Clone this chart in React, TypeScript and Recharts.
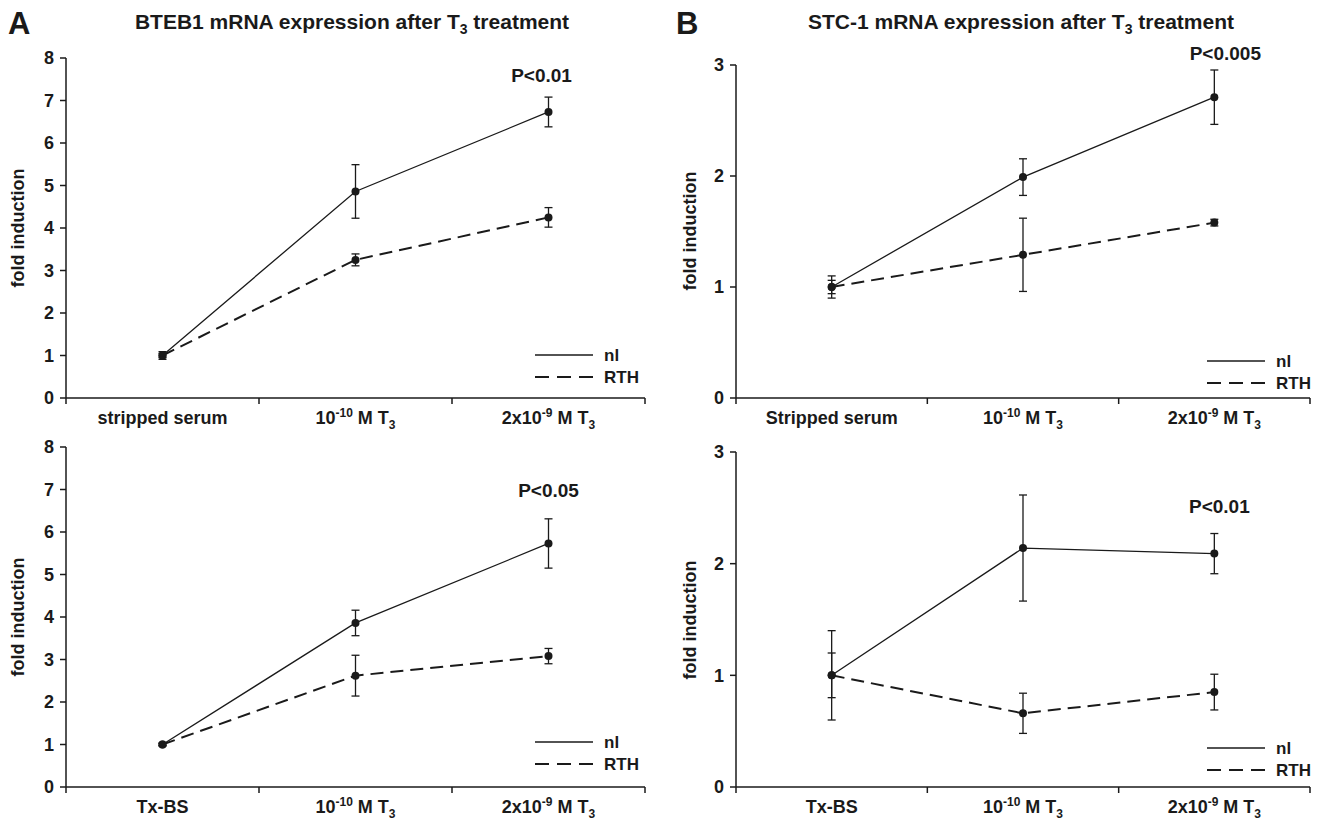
import React from 'react';
import { LineChart, Line, XAxis, YAxis, ErrorBar, ReferenceDot } from 'recharts';

const FONT = '"Liberation Sans", Arial, Helvetica, sans-serif';
const INK = '#1a1a1a';

// ---- tick labels ----
const xLabelsA1 = ['stripped serum', '10^{-10} M T_{3}', '2x10^{-9} M T_{3}'];
const xLabelsA2 = ['Tx-BS', '10^{-10} M T_{3}', '2x10^{-9} M T_{3}'];
const xLabelsB1 = ['Stripped serum', '10^{-10} M T_{3}', '2x10^{-9} M T_{3}'];
const xLabelsB2 = ['Tx-BS', '10^{-10} M T_{3}', '2x10^{-9} M T_{3}'];
const yTicksA = [0, 1, 2, 3, 4, 5, 6, 7, 8];
const yTicksB = [0, 1, 2, 3];

// ---- series values (fold induction) and error bars ----
const a1Nl = [1.0, 4.86, 6.73];
const a1NlErr = [0.05, 0.63, 0.35];
const a1Rth = [1.0, 3.25, 4.25];
const a1RthErr = [0.09, 0.14, 0.23];

const a2Nl = [1.0, 3.86, 5.73];
const a2NlErr = [0.03, 0.3, 0.58];
const a2Rth = [1.0, 2.62, 3.08];
const a2RthErr = [0.03, 0.48, 0.18];

const b1Nl = [1.0, 1.99, 2.71];
const b1NlErr = [0.1, 0.165, 0.245];
const b1Rth = [1.0, 1.29, 1.58];
const b1RthErr = [0.06, 0.33, 0.03];

const b2Nl = [1.0, 2.14, 2.09];
const b2NlErr = [0.4, 0.475, 0.18];
const b2Rth = [1.0, 0.66, 0.85];
const b2RthErr = [0.2, 0.18, 0.16];

function buildRows(nl: number[], nlErr: number[], rth: number[], rthErr: number[]) {
  return nl.map((v, i) => ({ x: i + 0.5, nl: v, nlErr: nlErr[i], rth: rth[i], rthErr: rthErr[i] }));
}

function renderRich(s: string, baseSize: number) {
  const parts = s.split(/(\^\{[^}]*\}|_\{[^}]*\})/).filter((p) => p.length > 0);
  let offset = 0;
  const small = Math.round(baseSize * 0.65);
  return parts.map((p, i) => {
    if (p.startsWith('^{')) {
      const target = -7;
      const dy = target - offset;
      offset = target;
      return (
        <tspan key={i} dy={dy} fontSize={small}>
          {p.slice(2, -1)}
        </tspan>
      );
    }
    if (p.startsWith('_{')) {
      const target = 5;
      const dy = target - offset;
      offset = target;
      return (
        <tspan key={i} dy={dy} fontSize={small}>
          {p.slice(2, -1)}
        </tspan>
      );
    }
    const dy = -offset;
    offset = 0;
    return (
      <tspan key={i} dy={dy} fontSize={baseSize}>
        {p}
      </tspan>
    );
  });
}

function makeXTick(labels: string[]) {
  return (props: any) => {
    const { x, y, payload } = props;
    const v = payload.value;
    if (Math.abs(v - Math.round(v)) < 1e-6) {
      return <line x1={x} x2={x} y1={y} y2={y + 6} stroke={INK} strokeWidth={1.5} />;
    }
    const idx = Math.floor(v);
    return (
      <text x={x} y={y + 26} textAnchor="middle" fontFamily={FONT} fontWeight="bold" fill={INK}>
        {renderRich(labels[idx], 18)}
      </text>
    );
  };
}

type PanelProps = {
  left: number;
  top: number;
  width: number;
  height: number;
  margin: { top: number; right: number; left: number; bottom: number };
  xHeight: number;
  yMax: number;
  yTicks: number[];
  labels: string[];
  rows: any[];
  pText: string;
  pY: number;
  pDx: number;
};

function Panel(p: PanelProps) {
  const pLabel = (props: any) => {
    const vb = props.viewBox || {};
    const cx = (vb.x || 0) + (vb.width || 0) / 2 + p.pDx;
    const cy = (vb.y || 0) + (vb.height || 0) / 2;
    return (
      <text
        x={cx}
        y={cy}
        textAnchor="middle"
        dominantBaseline="central"
        fontFamily={FONT}
        fontWeight="bold"
        fontSize={19}
        fill={INK}
      >
        {p.pText}
      </text>
    );
  };
  return (
    <div style={{ position: 'absolute', left: p.left, top: p.top }}>
      <LineChart width={p.width} height={p.height} data={p.rows} margin={p.margin}>
        <XAxis
          dataKey="x"
          type="number"
          domain={[0, 3]}
          ticks={[0, 0.5, 1, 1.5, 2, 2.5, 3]}
          interval={0}
          tickLine={false}
          tickSize={0}
          tickMargin={0}
          height={p.xHeight}
          axisLine={{ stroke: INK, strokeWidth: 1.5 }}
          tick={makeXTick(p.labels)}
        />
        <YAxis
          type="number"
          domain={[0, p.yMax]}
          ticks={p.yTicks}
          interval={0}
          width={40}
          tickSize={6}
          tickMargin={6}
          axisLine={{ stroke: INK, strokeWidth: 1.5 }}
          tickLine={{ stroke: INK, strokeWidth: 1.5 }}
          tick={{ fontFamily: FONT, fontWeight: 'bold', fontSize: 18, fill: INK }}
        />
        <Line
          type="linear"
          dataKey="rth"
          stroke={INK}
          strokeWidth={2}
          strokeDasharray="13 7"
          dot={{ r: 4, fill: INK, stroke: INK, strokeWidth: 0, strokeDasharray: 'none' }}
          isAnimationActive={false}
        >
          <ErrorBar dataKey="rthErr" width={4} stroke={INK} strokeWidth={1.3} direction="y" />
        </Line>
        <Line
          type="linear"
          dataKey="nl"
          stroke={INK}
          strokeWidth={1.3}
          dot={{ r: 4, fill: INK, stroke: INK, strokeWidth: 0 }}
          isAnimationActive={false}
        >
          <ErrorBar dataKey="nlErr" width={4} stroke={INK} strokeWidth={1.3} direction="y" />
        </Line>
        <ReferenceDot x={2.5} y={p.pY} r={0} ifOverflow="visible" fill="none" stroke="none" label={pLabel} />
      </LineChart>
    </div>
  );
}

function LegendBox({ left, top }: { left: number; top: number }) {
  return (
    <svg style={{ position: 'absolute', left, top }} width={110} height={50}>
      <line x1={0} x2={58} y1={10} y2={10} stroke={INK} strokeWidth={1.6} />
      <text x={69} y={16} fontFamily={FONT} fontWeight="bold" fontSize={17} fill={INK}>
        nl
      </text>
      <line x1={0} x2={58} y1={32} y2={32} stroke={INK} strokeWidth={2} strokeDasharray="14 8" />
      <text x={69} y={38} fontFamily={FONT} fontWeight="bold" fontSize={17} fill={INK}>
        RTH
      </text>
    </svg>
  );
}

function YLabel({ cx, cy }: { cx: number; cy: number }) {
  return (
    <div
      style={{
        position: 'absolute',
        left: cx - 100,
        top: cy - 12,
        width: 200,
        height: 24,
        lineHeight: '24px',
        textAlign: 'center',
        transform: 'rotate(-90deg)',
        fontFamily: FONT,
        fontWeight: 'bold',
        fontSize: 18,
        color: INK,
      }}
    >
      fold induction
    </div>
  );
}

function Title({ cx, y, children }: { cx: number; y: number; children: React.ReactNode }) {
  return (
    <div
      style={{
        position: 'absolute',
        left: cx - 300,
        top: y,
        width: 600,
        textAlign: 'center',
        fontFamily: FONT,
        fontWeight: 'bold',
        fontSize: 21,
        lineHeight: '24px',
        color: INK,
        whiteSpace: 'nowrap',
      }}
    >
      {children}
    </div>
  );
}

export default function App() {
  return (
    <div
      style={{
        position: 'absolute',
        left: 0,
        top: 0,
        width: 1326,
        height: 821,
        background: '#fff',
        overflow: 'hidden',
      }}
    >
      <div style={{ position: 'absolute', left: 8, top: 6, fontFamily: FONT, fontWeight: 'bold', fontSize: 31, color: INK }}>
        A
      </div>
      <div style={{ position: 'absolute', left: 676, top: 6, fontFamily: FONT, fontWeight: 'bold', fontSize: 31, color: INK }}>
        B
      </div>
      <Title cx={352} y={10}>
        BTEB1 mRNA expression after T<sub style={{ fontSize: 14 }}>3</sub> treatment
      </Title>
      <Title cx={1021} y={10}>
        STC-1 mRNA expression after T<sub style={{ fontSize: 14 }}>3</sub> treatment
      </Title>

      <Panel
        left={0}
        top={0}
        width={660}
        height={440}
        margin={{ top: 58, right: 15, left: 26, bottom: 2 }}
        xHeight={40}
        yMax={8}
        yTicks={yTicksA}
        labels={xLabelsA1}
        rows={buildRows(a1Nl, a1NlErr, a1Rth, a1RthErr)}
        pText="P<0.01"
        pY={7.6}
        pDx={-7}
      />
      <Panel
        left={0}
        top={400}
        width={660}
        height={421}
        margin={{ top: 47, right: 15, left: 26, bottom: 0 }}
        xHeight={34}
        yMax={8}
        yTicks={yTicksA}
        labels={xLabelsA2}
        rows={buildRows(a2Nl, a2NlErr, a2Rth, a2RthErr)}
        pText="P<0.05"
        pY={6.97}
        pDx={0}
      />
      <Panel
        left={670}
        top={0}
        width={656}
        height={440}
        margin={{ top: 65, right: 16, left: 26, bottom: 2 }}
        xHeight={40}
        yMax={3}
        yTicks={yTicksB}
        labels={xLabelsB1}
        rows={buildRows(b1Nl, b1NlErr, b1Rth, b1RthErr)}
        pText="P<0.005"
        pY={3.1}
        pDx={11}
      />
      <Panel
        left={670}
        top={400}
        width={656}
        height={421}
        margin={{ top: 52, right: 16, left: 26, bottom: 0 }}
        xHeight={34}
        yMax={3}
        yTicks={yTicksB}
        labels={xLabelsB2}
        rows={buildRows(b2Nl, b2NlErr, b2Rth, b2RthErr)}
        pText="P<0.01"
        pY={2.51}
        pDx={5}
      />

      <LegendBox left={535} top={345} />
      <LegendBox left={535} top={732} />
      <LegendBox left={1207} top={351} />
      <LegendBox left={1207} top={738} />

      <YLabel cx={18} cy={228} />
      <YLabel cx={18} cy={617} />
      <YLabel cx={690} cy={231} />
      <YLabel cx={690} cy={620} />
    </div>
  );
}
